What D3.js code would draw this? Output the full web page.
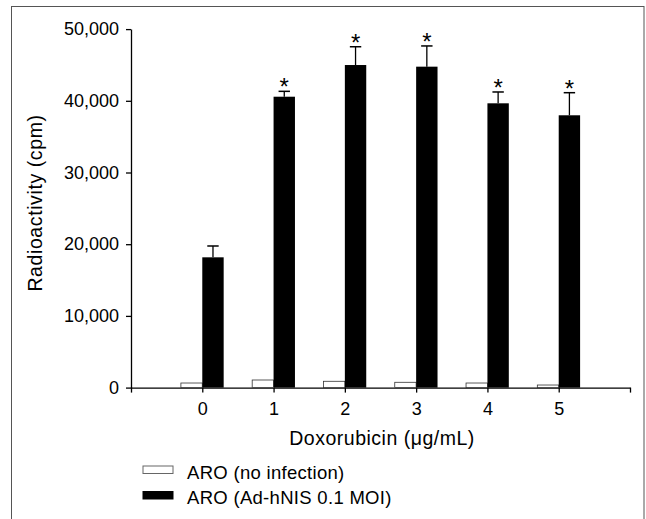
<!DOCTYPE html>
<html>
<head>
<meta charset="utf-8">
<script src="https://cdn.jsdelivr.net/npm/d3@7"></script>
<style>
  body { margin: 0; background: #fff; }
  text { font-family: "Liberation Sans", Arial, sans-serif; fill: #000; }
</style>
</head>
<body>
<script>
var doses = [0, 1, 2, 3, 4, 5];
var noInfection = [640, 1060, 880, 740, 640, 360];
var adhNIS = [18170, 40570, 44990, 44760, 39650, 37980];
var adhNISErr = [1580, 750, 2550, 2890, 1580, 3150];
var significant = [false, true, true, true, true, true];
var yTicks = [0, 10000, 20000, 30000, 40000, 50000];
var seriesNames = ["ARO (no infection)", "ARO (Ad-hNIS 0.1 MOI)"];

var W = 646, H = 519;
var svg = d3.select('body').append('svg')
    .attr('width', W)
    .attr('height', H);

// outer frame, open at the bottom
svg.append('rect')
    .attr('x', 11.5).attr('y', 6.5)
    .attr('width', 632.5).attr('height', 540)
    .attr('fill', 'none')
    .attr('stroke', '#555')
    .attr('stroke-width', 1);

var x = d3.scaleLinear().domain([-1, 6]).range([131, 630]);
var y = d3.scaleLinear().domain([0, 50000]).range([387.6, 29.1]);
var bw = 0.3;

var yAxis = d3.axisLeft(y)
    .tickValues(yTicks)
    .tickFormat(d3.format(','))
    .tickSize(5)
    .tickPadding(7)
    .tickSizeOuter(0);
var gy = svg.append('g')
    .attr('transform', 'translate(' + x(-1) + ',0)')
    .call(yAxis);

var xAxis = d3.axisBottom(x)
    .tickValues(d3.range(-1, 7))
    .tickFormat(function(d) { return doses.indexOf(d) >= 0 ? d : ''; })
    .tickSize(5)
    .tickPadding(10)
    .tickSizeOuter(0);
var gx = svg.append('g')
    .attr('transform', 'translate(0,' + y(0) + ')')
    .call(xAxis);

[gx, gy].forEach(function(g) {
  g.select('.domain').attr('stroke', '#000').attr('stroke-width', 1.3);
  g.selectAll('.tick line').attr('stroke', '#000').attr('stroke-width', 1.3);
  g.selectAll('.tick text')
      .style('font-family', '"Liberation Sans", Arial, sans-serif')
      .style('font-size', '18px')
      .attr('fill', '#000');
});

// white bars
svg.append('g').selectAll('rect')
    .data(doses)
  .enter().append('rect')
    .attr('x', function(d) { return x(d - bw); })
    .attr('y', function(d, i) { return y(noInfection[i]); })
    .attr('width', function(d) { return x(d) - x(d - bw); })
    .attr('height', function(d, i) { return y(0) - y(noInfection[i]); })
    .attr('fill', '#fff')
    .attr('stroke', '#333')
    .attr('stroke-width', 0.8);

// error bars for black bars
var err = svg.append('g').selectAll('g')
    .data(doses)
  .enter().append('g');
err.append('line')
    .attr('x1', function(d) { return x(d + bw / 2); })
    .attr('x2', function(d) { return x(d + bw / 2); })
    .attr('y1', function(d, i) { return y(adhNIS[i]); })
    .attr('y2', function(d, i) { return y(adhNIS[i] + adhNISErr[i]); })
    .attr('stroke', '#000')
    .attr('stroke-width', 1.3);
err.append('line')
    .attr('x1', function(d) { return x(d + bw / 2) - 5.7; })
    .attr('x2', function(d) { return x(d + bw / 2) + 5.7; })
    .attr('y1', function(d, i) { return y(adhNIS[i] + adhNISErr[i]); })
    .attr('y2', function(d, i) { return y(adhNIS[i] + adhNISErr[i]); })
    .attr('stroke', '#000')
    .attr('stroke-width', 1.5);
err.filter(function(d, i) { return significant[i]; })
  .append('text')
    .attr('x', function(d) { return x(d + bw / 2); })
    .attr('y', function(d) { var i = doses.indexOf(d); return y(adhNIS[i] + adhNISErr[i]) + 4; })
    .attr('text-anchor', 'middle')
    .style('font-size', '24px')
    .text('*');

// black bars
svg.append('g').selectAll('rect')
    .data(doses)
  .enter().append('rect')
    .attr('x', function(d) { return x(d); })
    .attr('y', function(d, i) { return y(adhNIS[i]); })
    .attr('width', function(d) { return x(d + bw) - x(d); })
    .attr('height', function(d, i) { return y(0) - y(adhNIS[i]); })
    .attr('fill', '#000');

// axis titles
svg.append('text')
    .attr('x', 382)
    .attr('y', 444.5)
    .attr('text-anchor', 'middle')
    .style('font-size', '19.5px')
    .style('letter-spacing', '0.5px')
    .text('Doxorubicin (\u03bcg/mL)');

svg.append('text')
    .attr('transform', 'translate(42,203) rotate(-90)')
    .attr('text-anchor', 'middle')
    .style('font-size', '19.5px')
    .style('letter-spacing', '0.6px')
    .text('Radioactivity (cpm)');

// legend
var legend = svg.append('g').selectAll('g')
    .data(seriesNames)
  .enter().append('g')
    .attr('transform', function(d, i) { return 'translate(143,' + (466 + i * 25.5) + ')'; });
legend.append('rect')
    .attr('width', 30)
    .attr('height', 7.5)
    .attr('fill', function(d, i) { return i ? '#000' : '#fff'; })
    .attr('stroke', function(d, i) { return i ? '#000' : '#666'; })
    .attr('stroke-width', 1);
legend.append('text')
    .attr('x', 44)
    .attr('y', 12.5)
    .style('font-size', '18.5px')
    .style('letter-spacing', '0.3px')
    .text(function(d) { return d; });
</script>
</body>
</html>
